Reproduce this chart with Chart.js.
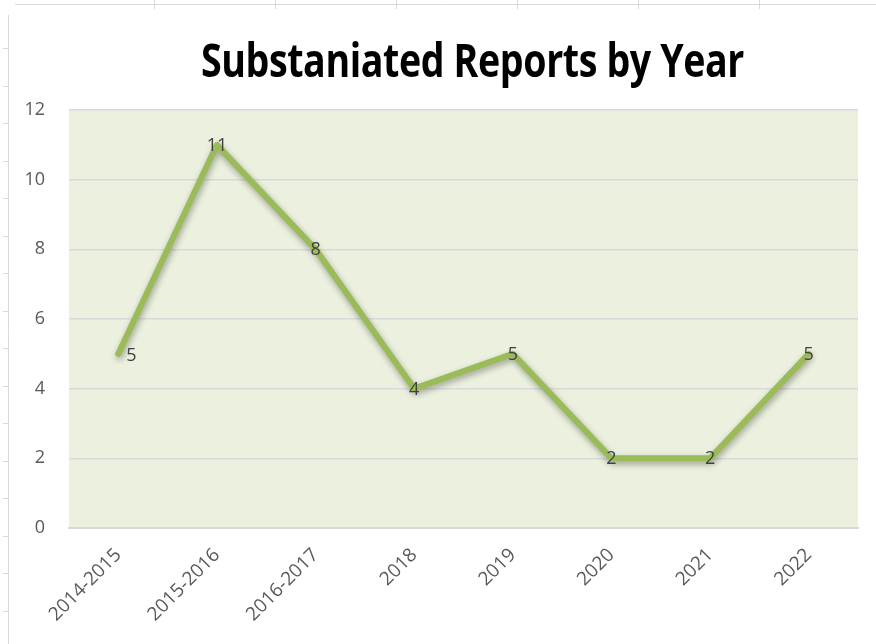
<!DOCTYPE html>
<html>
<head>
<meta charset="utf-8">
<script src="https://cdn.jsdelivr.net/npm/chart.js@4"></script>
<style>
  body { margin: 0; background: #fff; }
  #wrap { position: relative; width: 876px; height: 644px; }
  #title {
    position: absolute; left: 0; top: 36px; width: 944px; text-align: center;
    font-family: "Open Sans", sans-serif; font-weight: 700; font-size: 47px;
    letter-spacing: -0.5px; color: #000; line-height: 1;
  }
  #title span { display: inline-block; transform: scaleX(0.8); transform-origin: center; white-space: nowrap; }
  canvas { position: absolute; left: 0; top: 0; }
</style>
</head>
<body>
<div id="wrap">
  <canvas id="myChart" width="876" height="644"></canvas>
  <div id="title"><span>Substaniated Reports by Year</span></div>
</div>
<script>
// years along the bottom
var years = ['2014-2015', '2015-2016', '2016-2017', '2018', '2019', '2020', '2021', '2022'];
// number of substantiated reports
var reports = [5, 11, 8, 4, 5, 2, 2, 5];
var yTicks = [0, 2, 4, 6, 8, 10, 12];

// green plot background + the faint sheet lines round the edge
const backdrop = {
  id: 'backdrop',
  beforeDraw(chart) {
    const ctx = chart.ctx;
    const a = chart.chartArea;
    ctx.save();
    ctx.strokeStyle = '#d9d9d9';
    ctx.lineWidth = 1;
    ctx.beginPath();
    ctx.moveTo(15, 4.5); ctx.lineTo(876, 4.5);
    for (var tx = 154; tx < 876; tx += 121) { ctx.moveTo(tx + 0.5, 0); ctx.lineTo(tx + 0.5, 9); }
    ctx.moveTo(8.5, 15); ctx.lineTo(8.5, 644);
    for (var ty = 48; ty < 644; ty += 37.5) { ctx.moveTo(3, Math.round(ty) + 0.5); ctx.lineTo(9, Math.round(ty) + 0.5); }
    ctx.stroke();
    ctx.fillStyle = '#ebf1de';
    ctx.fillRect(a.left, a.top, a.right - a.left, a.bottom - a.top);
    ctx.restore();
  }
};

// soft shadow under the line
const lineShadow = {
  id: 'lineShadow',
  beforeDatasetDraw(chart) {
    const ctx = chart.ctx;
    ctx.save();
    ctx.shadowColor = 'rgba(0,0,0,0.35)';
    ctx.shadowBlur = 6;
    ctx.shadowOffsetX = 1;
    ctx.shadowOffsetY = 3;
  },
  afterDatasetDraw(chart) {
    chart.ctx.restore();
  }
};

// value labels on the points
const pointLabels = {
  id: 'pointLabels',
  afterDatasetsDraw(chart) {
    const ctx = chart.ctx;
    const meta = chart.getDatasetMeta(0);
    ctx.save();
    ctx.font = '18px "Open Sans", sans-serif';
    ctx.fillStyle = '#404040';
    ctx.textBaseline = 'middle';
    meta.data.forEach(function (pt, i) {
      var v = chart.data.datasets[0].data[i];
      if (i == 0) {
        ctx.textAlign = 'left';
        ctx.fillText(v, pt.x + 8, pt.y + 2);
      } else {
        ctx.textAlign = 'center';
        ctx.fillText(v, pt.x, pt.y + 1);
      }
    });
    ctx.restore();
  }
};

const data = {
  labels: years,
  datasets: [{
    label: 'Substantiated Reports',
    data: reports,
    borderColor: '#9bbb59',
    borderWidth: 6,
    pointRadius: 0,
    tension: 0,
    borderCapStyle: 'round',
    borderJoinStyle: 'round'
  }]
};

const config = {
  type: 'line',
  data: data,
  plugins: [backdrop, lineShadow, pointLabels],
  options: {
    responsive: false,
    animation: false,
    layout: { padding: { top: 110, right: 18, left: 0, bottom: 0 } },
    plugins: { legend: { display: false }, tooltip: { enabled: false } },
    scales: {
      x: {
        offset: true,
        grid: { display: false, drawTicks: false },
        border: { display: true, color: '#d9d9d9', width: 2 },
        ticks: {
          minRotation: 45, maxRotation: 45, padding: 16,
          color: '#595959', font: { family: 'Open Sans', size: 19 }
        },
        afterFit(scale) { scale.height = 116; }
      },
      y: {
        min: 0, max: 12,
        afterBuildTicks(scale) { scale.ticks = yTicks.map(function (v) { return { value: v }; }); },
        grid: { color: '#d9d9d9', lineWidth: 1.5, drawTicks: false },
        border: { display: false },
        ticks: { padding: 24, color: '#595959', font: { family: 'Open Sans', size: 18 } },
        afterFit(scale) { scale.width = 69; }
      }
    }
  }
};

const myChart = new Chart(document.getElementById('myChart'), config);
</script>
</body>
</html>
